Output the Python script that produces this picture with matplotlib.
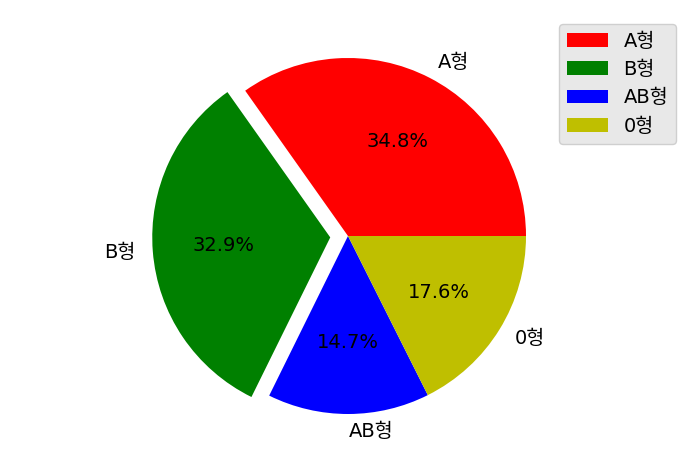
import matplotlib.pyplot as plt

plt.rcParams['font.family'] = ['DejaVu Sans', 'Noto Sans CJK KR']
plt.rcParams['font.size'] = 14

labels = ['A형', 'B형', 'AB형', '0형']
ratio = [34.8, 32.9, 14.7, 17.6]
colors = ['r', 'g', 'b', 'y']
explode = [0, 0.1, 0, 0]

fig = plt.figure(figsize=(6.98, 4.72), dpi=100)
ax = fig.add_axes([0, 0, 1, 1])
ax.pie(ratio, labels=labels, autopct='%.1f%%', colors=colors, explode=explode)

# 파이 위치와 크기 맞추기
r = 178
ax.set_xlim(-348 / r, 350 / r)
ax.set_ylim(-236 / r, 236 / r)
ax.set_aspect('auto')

leg = ax.legend(loc='upper right', bbox_to_anchor=(676 / 698, 1 - 24 / 472),
                bbox_transform=fig.transFigure, borderaxespad=0,
                handlelength=2.1, labelspacing=0.48,
                facecolor='#e8e8e8', edgecolor='#cfcfcf', framealpha=1)

plt.savefig('out.png')
